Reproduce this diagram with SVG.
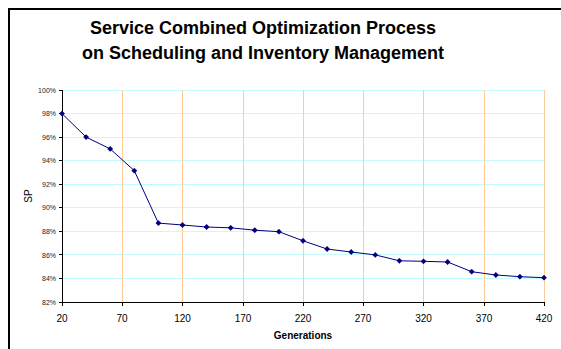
<svg xmlns="http://www.w3.org/2000/svg" width="561" height="349" viewBox="0 0 561 349">
  <style>
    .title { font-family: "Liberation Sans", Arial, sans-serif; font-size: 18px; font-weight: bold; fill: #000; text-anchor: middle; }
    .ylab { font-family: "Liberation Sans", Arial, sans-serif; font-size: 7px; fill: #222; text-anchor: end; }
    .xlab { font-family: "Liberation Sans", Arial, sans-serif; font-size: 10px; fill: #000; text-anchor: middle; }
    .axtitle { font-family: "Liberation Sans", Arial, sans-serif; font-size: 10px; font-weight: bold; fill: #000; text-anchor: middle; }
    .hgrid { stroke: #C4FCFC; stroke-width: 1; }
    .vgrid { stroke: #FFCC99; stroke-width: 1; }
    .axis { stroke: #000; stroke-width: 1; fill: none; }
    .series { stroke: #000080; stroke-width: 1; fill: none; }
  </style>
  <defs>
    <marker id="pt" viewBox="-3 -3 6 6" markerWidth="6" markerHeight="6" markerUnits="userSpaceOnUse" refX="0" refY="0">
      <path d="M0,-2.9 L2.9,0 L0,2.9 L-2.9,0 Z" fill="#000080"/>
    </marker>
  </defs>

  <rect width="561" height="349" fill="#fff"/>
  <!-- chart frame (open to the right and bottom) -->
  <path d="M9,349 V9 H561" fill="none" stroke="#000" stroke-width="2"/>

  <g id="title">
    <text class="title" x="263" y="33.5">Service Combined Optimization Process</text>
    <text class="title" x="263" y="58.5">on Scheduling and Inventory Management</text>
  </g>

  <g id="grid">
    <g class="hgrid">
      <line x1="62" y1="90.5" x2="544" y2="90.5"/>
      <line x1="62" y1="113.5" x2="544" y2="113.5"/>
      <line x1="62" y1="137.5" x2="544" y2="137.5"/>
      <line x1="62" y1="160.5" x2="544" y2="160.5"/>
      <line x1="62" y1="184.5" x2="544" y2="184.5"/>
      <line x1="62" y1="207.5" x2="544" y2="207.5"/>
      <line x1="62" y1="231.5" x2="544" y2="231.5"/>
      <line x1="62" y1="254.5" x2="544" y2="254.5"/>
      <line x1="62" y1="278.5" x2="544" y2="278.5"/>
    </g>
    <g class="vgrid">
      <line x1="122.5" y1="90" x2="122.5" y2="302"/>
      <line x1="182.5" y1="90" x2="182.5" y2="302"/>
      <line x1="243.5" y1="90" x2="243.5" y2="302"/>
      <line x1="303.5" y1="90" x2="303.5" y2="302"/>
      <line x1="363.5" y1="90" x2="363.5" y2="302"/>
      <line x1="423.5" y1="90" x2="423.5" y2="302"/>
      <line x1="484.5" y1="90" x2="484.5" y2="302"/>
      <line x1="544.5" y1="90" x2="544.5" y2="302"/>
    </g>
  </g>

  <g id="axes">
    <path class="axis" d="M62.5,90 V302.5 H544.5"/>
    <!-- y ticks -->
    <path class="axis" d="M59,90.5 H62 M59,113.5 H62 M59,137.5 H62 M59,160.5 H62 M59,184.5 H62 M59,207.5 H62 M59,231.5 H62 M59,254.5 H62 M59,278.5 H62 M59,302.5 H62"/>
    <!-- x ticks -->
    <path class="axis" d="M62.5,302 V306 M122.5,302 V306 M182.5,302 V306 M243.5,302 V306 M303.5,302 V306 M363.5,302 V306 M423.5,302 V306 M484.5,302 V306 M544.5,302 V306"/>
  </g>

  <g id="y-labels">
    <text class="ylab" x="56" y="92.5">100%</text>
    <text class="ylab" x="56" y="116">98%</text>
    <text class="ylab" x="56" y="139.5">96%</text>
    <text class="ylab" x="56" y="163">94%</text>
    <text class="ylab" x="56" y="186.5">92%</text>
    <text class="ylab" x="56" y="210">90%</text>
    <text class="ylab" x="56" y="234">88%</text>
    <text class="ylab" x="56" y="257.5">86%</text>
    <text class="ylab" x="56" y="281">84%</text>
    <text class="ylab" x="56" y="304.5">82%</text>
  </g>

  <g id="x-labels">
    <text class="xlab" x="62" y="322">20</text>
    <text class="xlab" x="122" y="322">70</text>
    <text class="xlab" x="182.5" y="322">120</text>
    <text class="xlab" x="243" y="322">170</text>
    <text class="xlab" x="303" y="322">220</text>
    <text class="xlab" x="363" y="322">270</text>
    <text class="xlab" x="423.5" y="322">320</text>
    <text class="xlab" x="484" y="322">370</text>
    <text class="xlab" x="544" y="322">420</text>
  </g>

  <g id="axis-titles">
    <text class="axtitle" x="303" y="339">Generations</text>
    <text class="xlab" x="0" y="0" font-size="10.5" transform="translate(32,196) rotate(-90)">SP</text>
  </g>

  <g id="series">
    <polyline class="series" marker-start="url(#pt)" marker-mid="url(#pt)" marker-end="url(#pt)"
      points="62,113.6 86.1,137.1 110.2,148.9 134.3,170.7 158.4,223.1 182.5,225 206.6,227 230.7,227.8 254.8,230.2 278.9,231.7 303,240.8 327.1,249 351.2,252 375.3,254.9 399.4,260.8 423.5,261.3 447.6,262 471.7,271.7 495.8,275 519.9,276.7 544,277.7"/>
  </g>
</svg>
